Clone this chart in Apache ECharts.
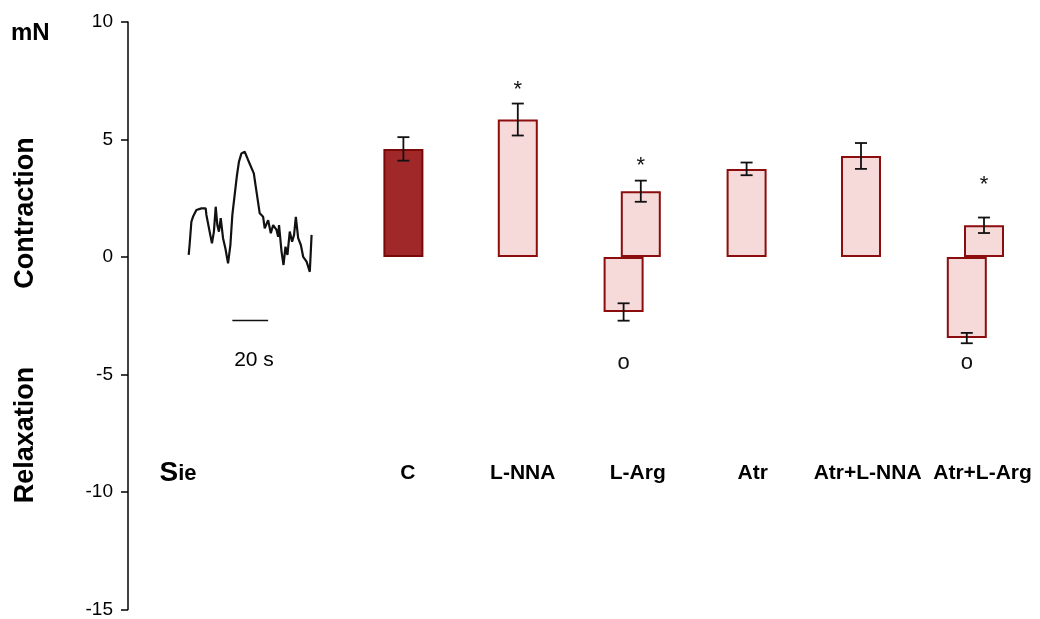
<!DOCTYPE html>
<html>
<head>
<meta charset="utf-8">
<script src="https://cdn.jsdelivr.net/npm/echarts@6/dist/echarts.min.js"></script>
<style>
  html, body { margin: 0; padding: 0; background: #fff; }
  #chart { width: 1040px; height: 619px; }
</style>
</head>
<body>
<div id="chart"></div>
<script>
// groups on the x axis ('' is the empty slot that holds the trace)
const categories = ['Sie', '', 'C', 'L-NNA', 'L-Arg', 'Atr', 'Atr+L-NNA', 'Atr+L-Arg'];
// mean contraction / relaxation in mN and their error
const contraction = [null, null, 4.6, 5.85, 2.8, 3.75, 4.3, 1.35];
const contractionErr = [null, null, 0.5, 0.68, 0.45, 0.27, 0.55, 0.33];
const relaxation = [null, null, null, null, -2.34, null, null, -3.45];
const relaxationErr = [null, null, null, null, 0.37, null, null, 0.22];
// significance marks and the level (mN) they are printed at
const starLevel = [null, null, null, 7.3, 4.05, null, null, 3.25];
const ringLevel = [null, null, null, null, -4.45, null, null, -4.45];
const yTicks = [-15, -10, -5, 0, 5, 10];

// recording trace: time (s), tension (mN)
const traceT = [0.6, 1.1, 2.1, 3.0, 4.9, 7.7, 10.1, 10.5, 12.3, 13.6, 14.7, 15.7, 16.6, 17.5, 18.5, 19.8,
  21.1, 22.6, 23.9, 25.0, 26.3, 27.6, 28.7, 30.1, 31.9, 33.8, 34.7, 37.0, 38.5, 40.3, 42.2, 43.1,
  45.0, 46.5, 47.8, 49.7, 50.6, 51.1, 52.5, 53.6, 54.7, 55.8, 57.1, 58.4, 59.5, 60.5, 61.8, 63.3,
  64.6, 66.5, 68.3, 69.3];
const traceV = [0.09, 0.51, 1.5, 1.71, 2.0, 2.07, 2.07, 1.79, 1.08, 0.58, 1.08, 2.14, 1.36, 1.08, 1.65, 0.8,
  0.37, -0.27, 0.51, 1.79, 2.64, 3.49, 4.06, 4.41, 4.48, 4.13, 4.06, 3.56, 2.78, 1.86, 1.71, 1.22,
  1.57, 1.01, 1.36, 1.15, 0.86, 1.36, 0.23, -0.34, 0.44, 0.09, 1.08, 0.65, 0.94, 1.71, 0.8, 0.51,
  0.01, -0.2, -0.63, 0.94];
// 20 s time bar
const scaleStart = 25;
const scaleLength = 20;
const scaleLevel = -2.7;

const FONT = '"Liberation Sans", Arial, sans-serif';
const BAR_W = 40;
const BAR_GAP = -0.57;
const pairHalf = BAR_W * (1 + BAR_GAP) / 2;
const darkRed = '#8b0d0d';

const lightStyle = { color: '#f6dada', borderColor: darkRed, borderWidth: 2 };
const controlStyle = { color: '#a02828', borderColor: '#7a0a0a', borderWidth: 2 };

const singles = contraction.map((v, i) =>
  v == null || relaxation[i] != null ? null
    : { value: v, itemStyle: categories[i] === 'C' ? controlStyle : lightStyle });
const pairUp = contraction.map((v, i) => (relaxation[i] != null ? v : null));

function errData(vals, errs, side) {
  const out = [];
  vals.forEach((v, i) => {
    if (v == null) return;
    out.push([i, v, errs[i], relaxation[i] != null ? side : 0]);
  });
  return out;
}

function errorBar(params, api) {
  const x = api.coord([api.value(0), 0])[0] + api.value(3);
  const hi = api.coord([api.value(0), api.value(1) + api.value(2)])[1];
  const lo = api.coord([api.value(0), api.value(1) - api.value(2)])[1];
  const cap = 6;
  const st = { stroke: '#111', lineWidth: 1.8 };
  return {
    type: 'group',
    children: [
      { type: 'line', shape: { x1: x, y1: hi, x2: x, y2: lo }, style: st },
      { type: 'line', shape: { x1: x - cap, y1: hi, x2: x + cap, y2: hi }, style: st },
      { type: 'line', shape: { x1: x - cap, y1: lo, x2: x + cap, y2: lo }, style: st }
    ]
  };
}

function marks(levels, text, side, dy) {
  const out = [];
  levels.forEach((lv, i) => {
    if (lv == null) return;
    out.push([i, lv, relaxation[i] != null ? side : 0]);
  });
  return {
    type: 'custom',
    xAxisIndex: 1,
    yAxisIndex: 0,
    silent: true,
    data: out,
    renderItem: (params, api) => {
      const p = api.coord([api.value(0), api.value(1)]);
      return {
        type: 'text',
        style: {
          text: text, x: p[0] + api.value(2), y: p[1] + dy,
          align: 'center', verticalAlign: 'middle',
          font: '22px ' + FONT, fill: '#111'
        }
      };
    }
  };
}

const chart = echarts.init(document.getElementById('chart'), null, { renderer: 'canvas' });

// bars sharing an x axis are laid out side by side, so the single bars
// get their own hidden axis (1) and the relaxation/contraction pairs another (3)
const option = {
  animation: false,
  backgroundColor: '#fff',
  textStyle: { fontFamily: FONT },
  grid: [
    { left: 117.4, width: 915.2, top: 22, height: 587.5 },
    { left: 159, width: 161, top: 22, height: 587.5 },
    { left: 120.5, width: 920.5, top: 22, height: 587.5 }
  ],
  xAxis: [
    {
      type: 'category', data: categories, gridIndex: 2, position: 'bottom', offset: -136.5,
      axisLine: { show: false }, axisTick: { show: false },
      axisLabel: {
        margin: 0, verticalAlign: 'middle', color: '#000', fontFamily: FONT,
        fontWeight: 'bold', fontSize: 21, interval: 0,
        formatter: v => (v === 'Sie' ? '{s|S}{ie|ie}' : v),
        rich: {
          s: { fontSize: 28, fontWeight: 'bold', fontFamily: FONT, color: '#000', verticalAlign: 'bottom', lineHeight: 28 },
          ie: { fontSize: 22, fontWeight: 'bold', fontFamily: FONT, color: '#000', verticalAlign: 'bottom', lineHeight: 22, padding: [0, 0, 2, 0] }
        }
      }
    },
    { type: 'category', data: categories, gridIndex: 0, show: false },
    { type: 'value', gridIndex: 1, min: -16, max: 74, show: false },
    { type: 'category', data: categories, gridIndex: 0, show: false }
  ],
  yAxis: [
    {
      type: 'value', gridIndex: 0, min: yTicks[0], max: yTicks[yTicks.length - 1], interval: 5,
      position: 'left', offset: -10.6,
      axisLine: { show: true, lineStyle: { color: '#000', width: 1.5 } },
      axisTick: { show: true, length: 7, lineStyle: { color: '#000', width: 1.5 } },
      splitLine: { show: false },
      axisLabel: { color: '#000', fontSize: 19, fontFamily: FONT, margin: 15 }
    },
    { type: 'value', gridIndex: 1, min: yTicks[0], max: yTicks[yTicks.length - 1], show: false },
    { type: 'value', gridIndex: 2, min: yTicks[0], max: yTicks[yTicks.length - 1], show: false }
  ],
  series: [
    {
      type: 'bar', name: 'single', xAxisIndex: 1, yAxisIndex: 0, barWidth: BAR_W,
      data: singles, itemStyle: lightStyle
    },
    {
      type: 'bar', name: 'relaxation', xAxisIndex: 3, yAxisIndex: 0, barWidth: BAR_W,
      barGap: (BAR_GAP * 100) + '%', data: relaxation, itemStyle: lightStyle
    },
    {
      type: 'bar', name: 'contraction pair', xAxisIndex: 3, yAxisIndex: 0, barWidth: BAR_W,
      barGap: (BAR_GAP * 100) + '%', data: pairUp, itemStyle: lightStyle
    },
    {
      type: 'custom', name: 'err up', xAxisIndex: 1, yAxisIndex: 0, silent: true, z: 5,
      data: errData(contraction, contractionErr, pairHalf), renderItem: errorBar
    },
    {
      type: 'custom', name: 'err down', xAxisIndex: 1, yAxisIndex: 0, silent: true, z: 5,
      data: errData(relaxation, relaxationErr, -pairHalf), renderItem: errorBar
    },
    marks(starLevel, '*', pairHalf, 4),
    marks(ringLevel, 'o', -pairHalf, 1),
    {
      type: 'line', name: 'trace', xAxisIndex: 2, yAxisIndex: 1, showSymbol: false, silent: true,
      data: traceT.map((t, i) => [t, traceV[i]]),
      lineStyle: { color: '#111', width: 2.2 }
    },
    {
      type: 'line', name: 'time bar', xAxisIndex: 2, yAxisIndex: 1, showSymbol: false, silent: true,
      data: [[scaleStart, scaleLevel], [scaleStart + scaleLength, scaleLevel]],
      lineStyle: { color: '#111', width: 1.5 }
    }
  ],
  graphic: [
    { type: 'text', left: 11, top: 21, style: { text: 'mN', font: 'bold 24px ' + FONT, fill: '#000' } },
    {
      type: 'text', x: 26, y: 213, rotation: Math.PI / 2,
      style: { text: 'Contraction', font: 'bold 27px ' + FONT, fill: '#000', align: 'center', verticalAlign: 'middle' }
    },
    {
      type: 'text', x: 26, y: 435, rotation: Math.PI / 2,
      style: { text: 'Relaxation', font: 'bold 27px ' + FONT, fill: '#000', align: 'center', verticalAlign: 'middle' }
    },
    {
      type: 'text', x: 254, y: 360,
      style: { text: scaleLength + ' s', font: '21px ' + FONT, fill: '#000', align: 'center', verticalAlign: 'middle' }
    }
  ]
};

chart.setOption(option);
</script>
</body>
</html>
